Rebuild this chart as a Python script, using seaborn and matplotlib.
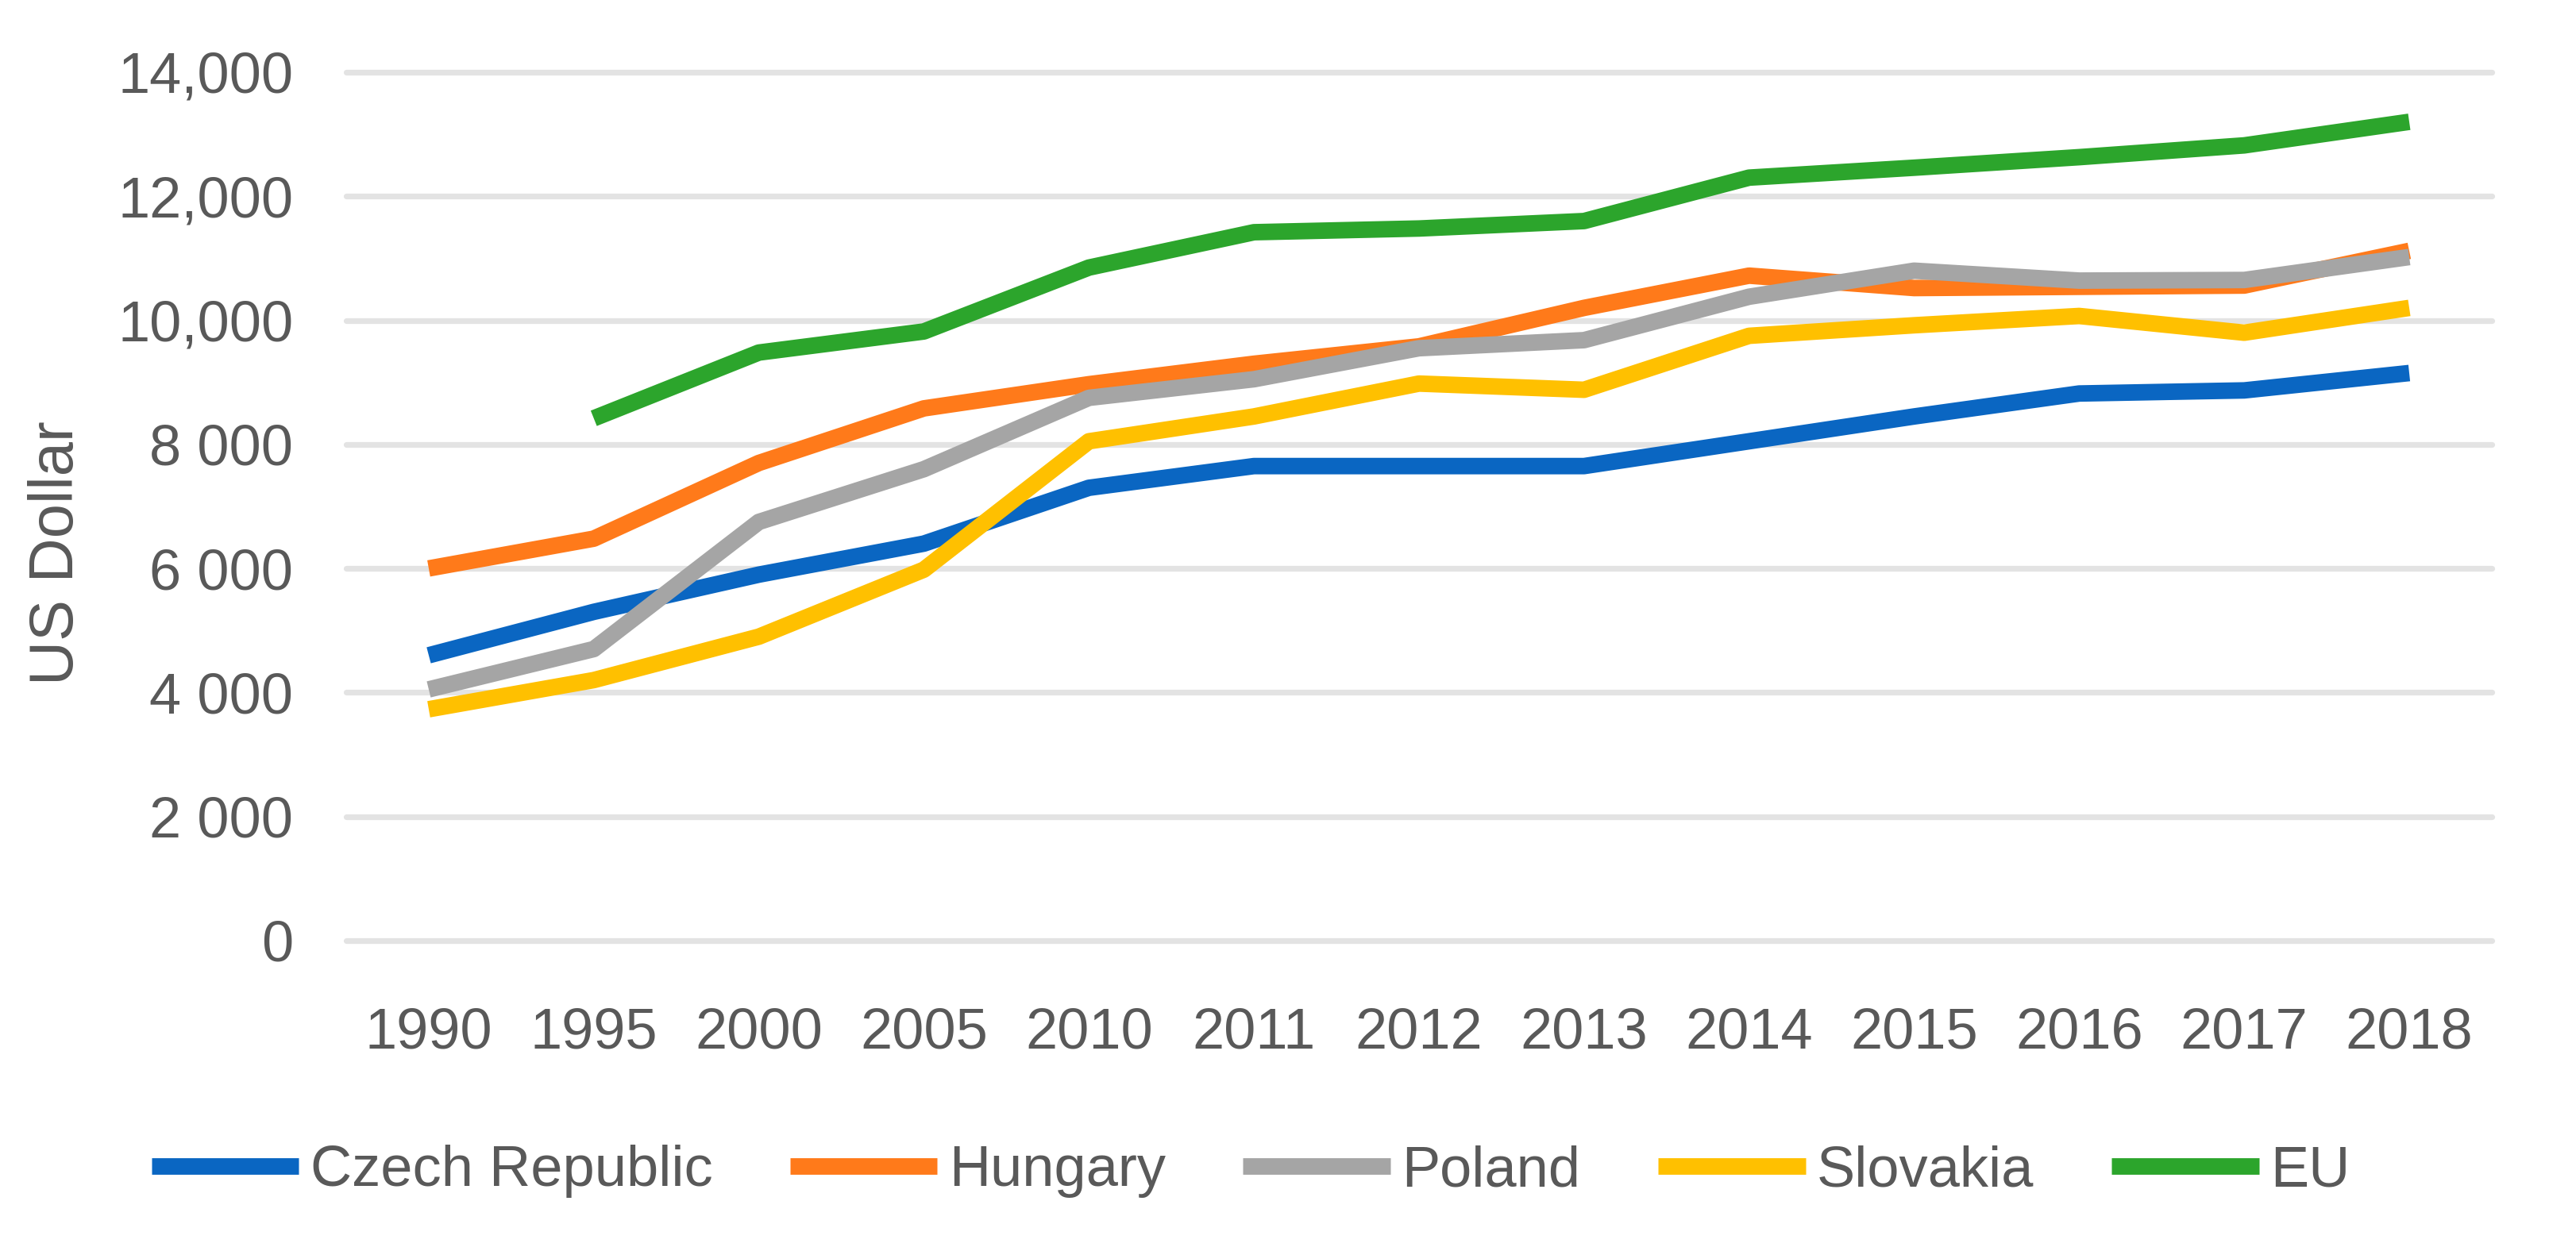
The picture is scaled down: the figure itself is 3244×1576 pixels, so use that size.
import numpy as np
import pandas as pd
import matplotlib
matplotlib.use("Agg")
import matplotlib.pyplot as plt
import seaborn as sns

# data
years = ["1990", "1995", "2000", "2005", "2010", "2011", "2012", "2013",
         "2014", "2015", "2016", "2017", "2018"]
czech = [4600, 5300, 5900, 6400, 7300, 7650, 7650, 7650, 8050, 8450, 8820, 8870, 9150]
hungary = [6000, 6480, 7700, 8580, 8970, 9300, 9580, 10200, 10720, 10520, 10540, 10560, 11120]
poland = [4050, 4700, 6750, 7600, 8750, 9050, 9550, 9680, 10380, 10800, 10640, 10650, 11020]
slovakia = [3730, 4200, 4900, 5980, 8050, 8450, 8980, 8880, 9750, 9920, 10070, 9800, 10200]
eu = [np.nan, 8420, 9480, 9820, 10850, 11420, 11480, 11600, 12300, 12460, 12630, 12820, 13200]

series_names = ["Czech Republic", "Hungary", "Poland", "Slovakia", "EU"]
series_vals = [czech, hungary, poland, slovakia, eu]
colors = ["#0A66C2", "#FF7A1A", "#A5A5A5", "#FFC000", "#2CA52C"]

yticks = [0, 2000, 4000, 6000, 8000, 10000, 12000, 14000]
ytick_labels = ["0", "2 000", "4 000", "6 000", "8 000", "10,000", "12,000", "14,000"]

rows = []
for name, vals in zip(series_names, series_vals):
    for yr, v in zip(years, vals):
        rows.append({"Year": yr, "Value": v, "Country": name})
df = pd.DataFrame(rows).dropna()

sns.set_style("white")
plt.rcParams["font.family"] = ["Liberation Sans", "DejaVu Sans"]
text_col = "#595959"

fig = plt.figure(figsize=(16.22, 7.88), dpi=200)
ax = fig.add_axes([0.1344, 0.2481, 0.8329, 0.6942])

sns.lineplot(data=df, x="Year", y="Value", hue="Country", hue_order=series_names,
             palette=colors, linewidth=7.5, sort=False, ax=ax,
             solid_joinstyle="round", solid_capstyle="butt")

ax.set_xlim(-0.5, len(years) - 0.5)
ax.set_ylim(0, 14000)
ax.set_yticks(yticks)
ax.set_yticklabels(ytick_labels)
ax.grid(axis="y", color="#E3E3E3", linewidth=2.6)
ax.set_axisbelow(True)
for gl in ax.get_ygridlines():
    gl.set_clip_on(False)
for s in ax.spines.values():
    s.set_visible(False)
ax.tick_params(axis="y", length=0, pad=24, labelsize=26, labelcolor=text_col)
ax.tick_params(axis="x", length=0, pad=30, labelsize=26, labelcolor=text_col)
ax.set_xlabel("")
ax.set_ylabel("")

fig.text(0.022, 0.558, "US Dollar", rotation=90, ha="center", va="center",
         fontsize=28, color=text_col)

handles, labels = ax.get_legend_handles_labels()
ax.get_legend().remove()
leg = fig.legend(handles, labels, loc="center", bbox_to_anchor=(0.4855, 0.0635),
                 ncol=5, frameon=False, fontsize=26, handlelength=2.57,
                 handletextpad=0.2, columnspacing=1.35, labelcolor=text_col)
for line in leg.get_lines():
    line.set_linewidth(7.5)

fig.savefig("out.png", dpi=200, facecolor="white")
